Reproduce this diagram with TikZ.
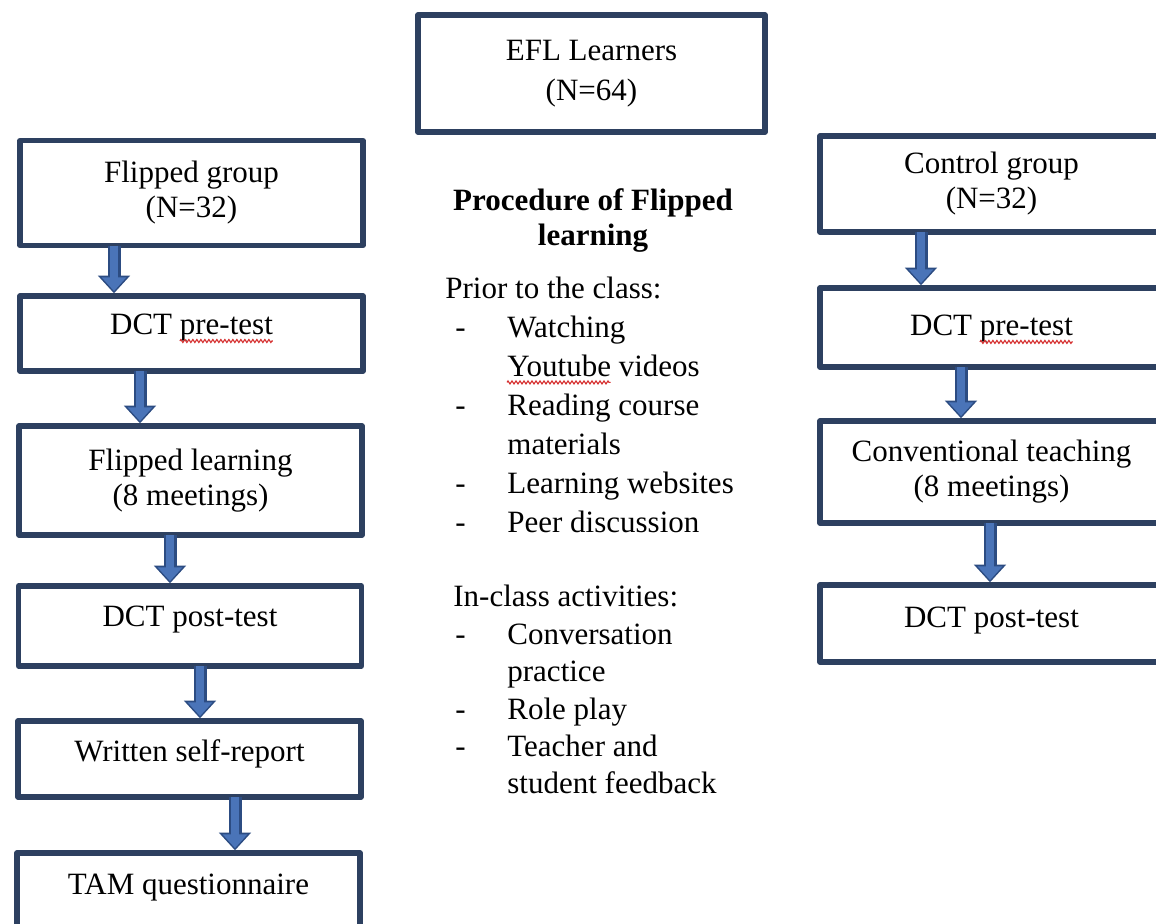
\documentclass[tikz,border=0pt]{standalone}
\usepackage{fontspec}
\setmainfont{Liberation Serif}
\usetikzlibrary{arrows.meta,decorations.pathmorphing}
\definecolor{boxline}{RGB}{45,64,96}
\definecolor{arrowblue}{RGB}{74,116,184}
\definecolor{arrowedge}{RGB}{44,76,130}
\definecolor{spellred}{RGB}{214,48,48}
\newlength{\dctwidth}
\newlength{\prewidth}
\newlength{\tubewidth}
\newcommand{\listdash}{\makebox[31pt][l]{\hspace{5pt}-}}
\newcommand{\listgap}{\hspace*{31pt}}

\begin{document}
\settowidth{\dctwidth}{\fontsize{15.5}{17.5}\selectfont DCT pre-test}
\settowidth{\prewidth}{\fontsize{15.5}{17.5}\selectfont pre-test}
\settowidth{\tubewidth}{\fontsize{15.5}{17.5}\selectfont Youtube}
\begin{tikzpicture}[x=0.5pt, y=-0.5pt]
            \tikzstyle{every node} = [font=\fontsize{15.5}{17.5}\selectfont]
            \tikzstyle{stepbox} = [draw=boxline, line width=2.7pt, line join=round, fill=white,
                minimum width=171.5pt, align=center]
            \tikzstyle{onebox} = [stepbox, text height=11pt]
            \tikzstyle{listtext} = [anchor=north west, inner sep=0pt, align=left]
            \tikzstyle{flowarrow} = [draw=arrowedge, line width=6.5pt, shorten <=-1.3pt,
                -{Triangle[width=15.5pt, length=8.8pt]},
                postaction={draw=arrowblue, line width=4.3pt, shorten >=1.1pt,
                -{Triangle[width=12pt, length=6.9pt]}}]
            \tikzstyle{spellwave} = [draw=spellred, line width=0.55pt, decorate,
                decoration={zigzag, segment length=2pt, amplitude=0.75pt}]

            \fill[white] (0,0) rectangle (1156,923);
            \clip (0,0) rectangle (1156,923);

            \node[stepbox, minimum width=173.5pt, minimum height=58.5pt,
                font=\fontsize{15.5}{20}\selectfont] (efl) at (591.5,73.5) {EFL Learners\\(N=64)};

            \node[stepbox, minimum height=52.5pt] (flipgroup) at (191.5,193) {Flipped group\\(N=32)};
            \node[onebox, minimum height=37.5pt, text depth=9.9pt] (flippre) at (191.5,333.5) {DCT pre-test};
            \node[stepbox, minimum height=54.5pt] (fliplearn) at (190.5,480.5) {Flipped learning\\(8 meetings)};
            \node[onebox, minimum height=40pt, text depth=10.5pt] (flippost) at (190,626) {DCT post-test};
            \node[onebox, minimum height=38pt, text depth=8.5pt] (report) at (189.5,759) {Written self-report};
            \node[onebox, minimum height=42pt, text depth=11.5pt] (tam) at (188.5,895) {TAM questionnaire};

            \node[stepbox, minimum height=48pt] (ctrlgroup) at (991.5,184) {Control group\\(N=32)};
            \node[onebox, minimum height=39.5pt, text depth=3pt] (ctrlpre) at (991.5,327.5) {DCT pre-test};
            \node[stepbox, minimum height=51pt] (ctrlteach) at (991.5,472) {Conventional teaching\\(8 meetings)};
            \node[onebox, minimum height=38.5pt, text depth=7pt] (ctrlpost) at (991.5,623.5) {DCT post-test};

            \draw[flowarrow] (114,0 |- flipgroup.south) -- (114,0 |- flippre.north);
            \draw[flowarrow] (140,0 |- flippre.south) -- (140,0 |- fliplearn.north);
            \draw[flowarrow] (170,0 |- fliplearn.south) -- (170,0 |- flippost.north);
            \draw[flowarrow] (200,0 |- flippost.south) -- (200,0 |- report.north);
            \draw[flowarrow] (235,0 |- report.south) -- (235,0 |- tam.north);

            \draw[flowarrow] (921,0 |- ctrlgroup.south) -- (921,0 |- ctrlpre.north);
            \draw[flowarrow] (961,0 |- ctrlpre.south) -- (961,0 |- ctrlteach.north);
            \draw[flowarrow] (990,0 |- ctrlteach.south) -- (990,0 |- ctrlpost.north);

            \draw[spellwave] ([xshift=0.5\dctwidth-\prewidth, yshift=-3.2pt]flippre.base)
                -- ([xshift=0.5\dctwidth, yshift=-3.2pt]flippre.base);
            \draw[spellwave] ([xshift=0.5\dctwidth-\prewidth, yshift=-3.2pt]ctrlpre.base)
                -- ([xshift=0.5\dctwidth, yshift=-3.2pt]ctrlpre.base);

            \node[anchor=north, inner sep=0pt, align=center,
                font=\bfseries\fontsize{15.5}{17.5}\selectfont] (title) at (593,188.5) {Procedure of Flipped\\learning};

            \node[listtext, font=\fontsize{15.5}{19.5}\selectfont] (prior) at (445,277) {Prior to the class:\\
                \listdash Watching\\
                \listgap Youtube videos\\
                \listdash Reading course\\
                \listgap materials\\
                \listdash Learning websites\\
                \listdash Peer discussion};
            \draw[spellwave] (507,382.4) -- ([xshift=\tubewidth]507,382.4);

            \node[listtext, font=\fontsize{15.5}{18.7}\selectfont] (inclass) at (445,585) {\hspace*{4pt}In-class activities:\\
                \listdash Conversation\\
                \listgap practice\\
                \listdash Role play\\
                \listdash Teacher and\\
                \listgap student feedback};
        \end{tikzpicture}
\end{document}
